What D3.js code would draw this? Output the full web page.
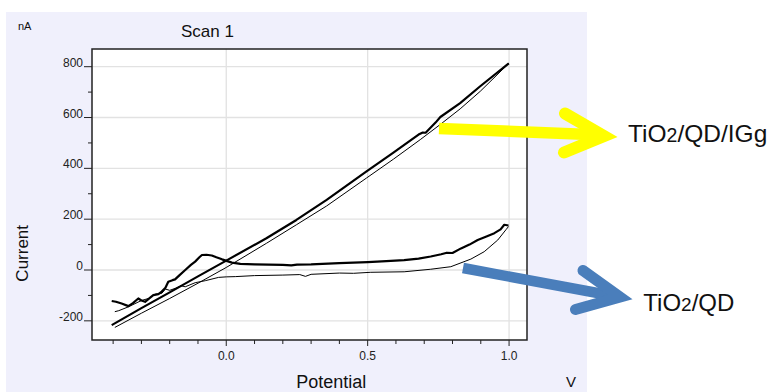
<!DOCTYPE html>
<html><head><meta charset="utf-8">
<script src="https://cdn.jsdelivr.net/npm/d3@7/dist/d3.min.js"></script>
<style>
html,body{margin:0;padding:0;background:#fff;}
svg{display:block;font-family:"Liberation Sans",Arial,Helvetica,sans-serif;}
</style></head>
<body><svg id="c" width="771" height="392"></svg>
<script>
// ---- data (potential V, current nA) ----
const qdIggForwardV = [-0.405,-0.3,-0.2,-0.1,0,0.142,0.248,0.355,0.496,0.591,0.68,0.695,0.705,0.74,0.757,0.827,0.898,0.999];
const qdIggForwardI = [-217,-150,-88,-25,37,125,197,276,388,462,533,541,540,580,602,657,723,813];
const qdIggReverseV = [0.999,0.898,0.827,0.756,0.686,0.591,0.496,0.355,0.248,0.142,0,-0.1,-0.2,-0.3,-0.394];
const qdIggReverseI = [813,703,634,572,513,436,362,252,178,105,10,-52,-112,-170,-226];
const qdForwardV = [-0.405,-0.39,-0.37,-0.346,-0.33,-0.311,-0.3,-0.287,-0.27,-0.258,-0.24,-0.228,-0.215,-0.205,-0.19,-0.181,-0.165,-0.145,-0.125,-0.11,-0.095,-0.086,-0.07,-0.051,-0.035,-0.015,0.02,0.05,0.1,0.2,0.23,0.25,0.3,0.4,0.5,0.55,0.629,0.68,0.723,0.76,0.78,0.8,0.83,0.86,0.889,0.92,0.948,0.97,0.983,0.998];
const qdForwardI = [-122,-125,-132,-142,-130,-112,-120,-125,-110,-99,-95,-85,-70,-46,-40,-37,-20,0,20,33,50,59,60,57,50,42,29,24,22,20,18,21,22,27,31,34,39,45,53,62,68,67,85,100,118,132,145,160,178,175];
const qdReverseV = [0.998,0.99,0.96,0.912,0.865,0.794,0.723,0.629,0.511,0.45,0.4,0.3,0.28,0.26,0.2,0.1,0.032,0,-0.027,-0.074,-0.11,-0.145,-0.16,-0.18,-0.2,-0.215,-0.228,-0.25,-0.275,-0.3,-0.346,-0.38,-0.394];
const qdReverseI = [171,160,118,72,43,13,3,-7,-9,-13,-12,-17,-25,-18,-20,-22,-26,-27,-29,-42,-50,-66,-62,-72,-80,-75,-92,-95,-112,-120,-145,-160,-164];
const xMajorTicks = [0, 0.5, 1.0];
const xMinorTicks = [-0.4,-0.3,-0.2,-0.1,0.1,0.2,0.3,0.4,0.6,0.7,0.8,0.9];
const yMajorTicks = [-200, 0, 200, 400, 600, 800];
const yMinorTicks = [-100, 100, 300, 500, 700];

const svg = d3.select("#c");
const L=92, R=527, T=49, B=340;
const x = d3.scaleLinear().domain([-0.4747, 1.0634]).range([L, R]);
const y = d3.scaleLinear().domain([-275.4, 869.6]).range([B, T]);

// background panel
svg.append("rect").attr("x",6).attr("y",12).attr("width",581).attr("height",380).attr("fill","#f0f0fc");
svg.append("rect").attr("x",L).attr("y",T).attr("width",R-L).attr("height",B-T).attr("fill","#fff");

// grid
svg.append("g").selectAll("line").data(xMajorTicks).join("line")
  .attr("x1",d=>x(d)).attr("x2",d=>x(d)).attr("y1",T).attr("y2",B)
  .attr("stroke","#e2e2e2").attr("stroke-width",1.3);
svg.append("g").selectAll("line").data(yMajorTicks).join("line")
  .attr("x1",L).attr("x2",R).attr("y1",d=>y(d)).attr("y2",d=>y(d))
  .attr("stroke","#e2e2e2").attr("stroke-width",1.3);

// curves
const line = d3.line().x(d=>x(d[0])).y(d=>y(d[1]));
const zipv = (a,b)=>a.map((v,i)=>[v,b[i]]);
const curves = [
  [zipv(qdIggReverseV,qdIggReverseI),1],
  [zipv(qdReverseV,qdReverseI),1],
  [zipv(qdIggForwardV,qdIggForwardI),2.2],
  [zipv(qdForwardV,qdForwardI),2.2]
];
curves.forEach(([pts,w])=>{
  svg.append("path").attr("d",line(pts)).attr("fill","none")
    .attr("stroke","#000").attr("stroke-width",w).attr("stroke-linejoin","round");
});

// frame
svg.append("rect").attr("x",L).attr("y",T).attr("width",R-L).attr("height",B-T)
  .attr("fill","none").attr("stroke","#222").attr("stroke-width",1.5);

// x axis ticks
svg.append("g").selectAll("line").data(xMajorTicks).join("line")
  .attr("x1",d=>x(d)).attr("x2",d=>x(d)).attr("y1",B).attr("y2",B+6).attr("stroke","#222");
svg.append("g").selectAll("line").data(xMinorTicks).join("line")
  .attr("x1",d=>x(d)).attr("x2",d=>x(d)).attr("y1",B).attr("y2",B+4).attr("stroke","#222");
svg.append("g").selectAll("text").data(xMajorTicks).join("text")
  .attr("x",d=>x(d)).attr("y",360).attr("text-anchor","middle").attr("font-size",12)
  .attr("fill","#222").text(d=>d.toFixed(1));

// y axis ticks
svg.append("g").selectAll("line").data(yMajorTicks).join("line")
  .attr("x1",84).attr("x2",L).attr("y1",d=>y(d)).attr("y2",d=>y(d)).attr("stroke","#222");
svg.append("g").selectAll("line").data(yMinorTicks).join("line")
  .attr("x1",88).attr("x2",L).attr("y1",d=>y(d)).attr("y2",d=>y(d)).attr("stroke","#222");
svg.append("g").selectAll("text").data(yMajorTicks).join("text")
  .attr("x",83).attr("y",d=>y(d)).attr("text-anchor","end").attr("font-size",12)
  .attr("fill","#222").text(d=>d);

// titles
svg.append("text").attr("x",18).attr("y",30).attr("font-size",11).attr("fill","#111").text("nA");
svg.append("text").attr("x",207.5).attr("y",37.3).attr("text-anchor","middle").attr("font-size",17).attr("fill","#111").text("Scan 1");
svg.append("text").attr("transform","translate(28.3,253.3) rotate(-90)").attr("text-anchor","middle").attr("font-size",17).attr("fill","#111").text("Current");
svg.append("text").attr("x",331.3).attr("y",387.5).attr("text-anchor","middle").attr("font-size",18).attr("fill","#111").text("Potential");
svg.append("text").attr("x",571).attr("y",387.3).attr("text-anchor","middle").attr("font-size",15).attr("fill","#111").text("V");

// annotation arrows
const yellow="#ffff00", blue="#4a7ebb";
svg.append("path").attr("d","M439,128.5 L602,135").attr("stroke",yellow).attr("stroke-width",11.5).attr("fill","none");
svg.append("path").attr("d","M565,113.5 L604,136 L564,152.5").attr("stroke",yellow).attr("stroke-width",12)
  .attr("fill","none").attr("stroke-linecap","round").attr("stroke-linejoin","miter");
svg.append("path").attr("d","M463,268 L619,297").attr("stroke",blue).attr("stroke-width",10.5).attr("fill","none");
svg.append("path").attr("d","M583,270.5 L620,297 L575.5,309.5").attr("stroke",blue).attr("stroke-width",11)
  .attr("fill","none").attr("stroke-linecap","round").attr("stroke-linejoin","miter");

// labels
const lab1 = svg.append("text").attr("x",628).attr("y",141.7).attr("font-size",24.5).attr("fill","#111");
lab1.append("tspan").text("TiO");
lab1.append("tspan").attr("font-size",19.5).text("2");
lab1.append("tspan").text("/QD/IGg");
const lab2 = svg.append("text").attr("x",643.3).attr("y",310.7).attr("font-size",24).attr("fill","#111");
lab2.append("tspan").text("TiO");
lab2.append("tspan").attr("font-size",19).text("2");
lab2.append("tspan").text("/QD");
</script></body></html>
